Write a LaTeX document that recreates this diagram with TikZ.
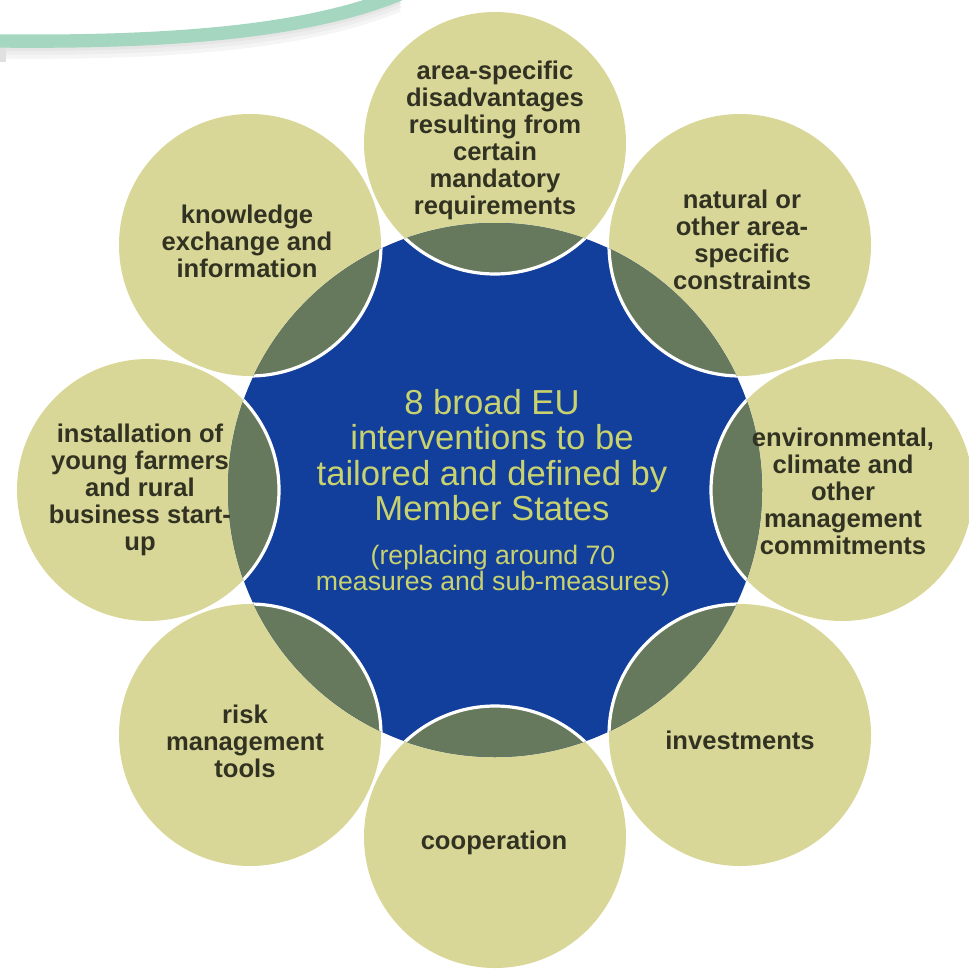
\documentclass[tikz,border=0pt]{standalone}
\usepackage{fontspec}
\setmainfont{Liberation Sans}
\usepackage{xcolor}
\definecolor{petalfill}{RGB}{216,215,152}
\definecolor{hubblue}{RGB}{18,62,156}
\definecolor{overlapgreen}{RGB}{102,121,92}
\definecolor{labeltext}{RGB}{50,50,34}
\definecolor{hubtext}{RGB}{200,210,110}
\definecolor{slidearc}{RGB}{164,214,192}

\begin{document}
\begin{tikzpicture}[x=0.75pt,y=0.75pt,yscale=-1,xscale=1,
  petal/.style={fill=petalfill},
  overlap/.style={fill=overlapgreen,draw=white,line width=2.4pt},
  label/.style={text=labeltext,align=center,inner sep=0.75pt,font=\fontsize{19.2}{20.25}\selectfont\bfseries},
  hubtitle/.style={text=hubtext,align=center,inner sep=0.75pt,font=\fontsize{26}{26.5}\selectfont},
  hubnote/.style={text=hubtext,align=center,inner sep=0.75pt,font=\fontsize{20}{19.5}\selectfont}]
\useasboundingbox (0,0) rectangle (969,973);

% centres
\coordinate (hub) at (495,490);
\coordinate (p1) at (495,143);
\coordinate (p2) at (740,245);
\coordinate (p3) at (842,490);
\coordinate (p4) at (740,735);
\coordinate (p5) at (495,837);
\coordinate (p6) at (250,735);
\coordinate (p7) at (148,490);
\coordinate (p8) at (250,245);

%Slide arc (top left) with its shadow
\foreach \s/\o in {14/4,10/7,6/10}
  \draw [black!\o,line width=4pt] (0,42+\s) .. controls (200,44+\s) and (320,28+\s) .. (400,-5+\s) ;
\fill [black!12] (0,47) rectangle (6,62) ;
\draw [slidearc,line width=10pt] (0,41) .. controls (200,43) and (320,27) .. (400,-6) ;

%Shape: Circles (petals)
\foreach \i in {1,...,8}
  \fill [petal] (p\i) circle (131) ;
%Shape: Circle (hub)
\fill [hubblue] (hub) circle (267) ;
%Overlaps of petals and hub
\begin{scope}
  \clip (hub) circle (267) ;
  \foreach \i in {1,...,8}
    \draw [overlap] (p\i) circle (131) ;
\end{scope}

% Text Node
\node [label] (l1) at (495,140) {area-specific\\disadvantages\\resulting from\\certain\\mandatory\\requirements};
% Text Node
\node [label] (l2) at (742,240) {natural or\\other area-\\specific\\constraints};
% Text Node
\node [label] (l3) at (843,491) {environmental,\\climate and\\other\\management\\commitments};
% Text Node
\node [label] (l4) at (740,740) {investments};
% Text Node
\node [label] (l5) at (494,843) {cooperation};
% Text Node
\node [label] (l6) at (245,741) {risk\\management\\tools};
% Text Node
\node [label] (l7) at (140,490) {installation of\\young farmers\\and rural\\business start-\\up};
% Text Node
\node [label] (l8) at (247,241) {knowledge\\exchange and\\information};
% Text Node
\node [hubtitle] (title) at (492,455) {8 broad EU\\interventions to be\\tailored and defined by\\Member States};
% Text Node
\node [hubnote] (note) at (493,571) {(replacing around 70\\measures and sub-measures)};

\end{tikzpicture}
\end{document}
